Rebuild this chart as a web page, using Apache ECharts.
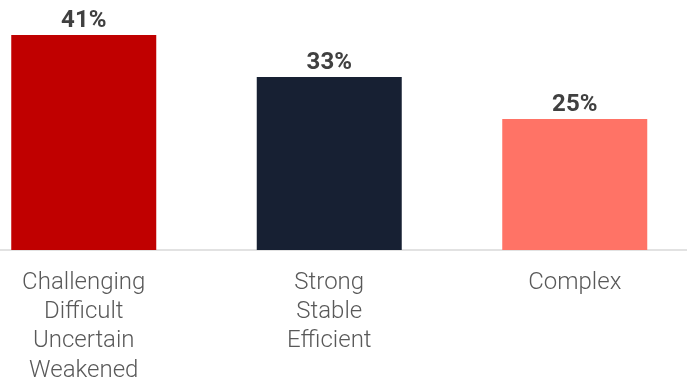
<!DOCTYPE html>
<html><head><meta charset="utf-8">
<script src="https://cdn.jsdelivr.net/npm/echarts@6/dist/echarts.min.js"></script>
<style>html,body{margin:0;padding:0;background:#fff}#c{width:687px;height:382px}</style>
</head><body><div id="c"></div>
<script>
const categories = ['Challenging\nDifficult\nUncertain\nWeakened', 'Strong\nStable\nEfficient', 'Complex'];
const values = [41, 33, 25];
const colors = ['#C00000', '#172033', '#FF7366'];

const chart = echarts.init(document.getElementById('c'), null, {renderer: 'canvas'});
chart.setOption({
  animation: false,
  grid: {left: -39, right: -10.5, top: 35, bottom: 132, containLabel: false, outerBoundsMode: 'none'},
  xAxis: {
    type: 'category', data: categories,
    axisLine: {show: true, lineStyle: {color: '#D9D9D9', width: 1.5}},
    axisTick: {show: false},
    axisLabel: {interval: 0, margin: 18, fontFamily: 'Roboto', fontWeight: 300, fontSize: 24, lineHeight: 29.3, color: '#595959', verticalAlign: 'top'}
  },
  yAxis: {type: 'value', min: 0, max: 41, show: false, splitLine: {show: false}},
  series: [{
    type: 'bar', barWidth: 145,
    data: values.map((v, i) => ({value: v, itemStyle: {color: colors[i]}})),
    label: {show: true, position: 'top', distance: 2, formatter: p => p.value + '%', fontFamily: 'Roboto', fontWeight: 'bold', fontSize: 24, color: '#404040'}
  }]
});
</script></body></html>
